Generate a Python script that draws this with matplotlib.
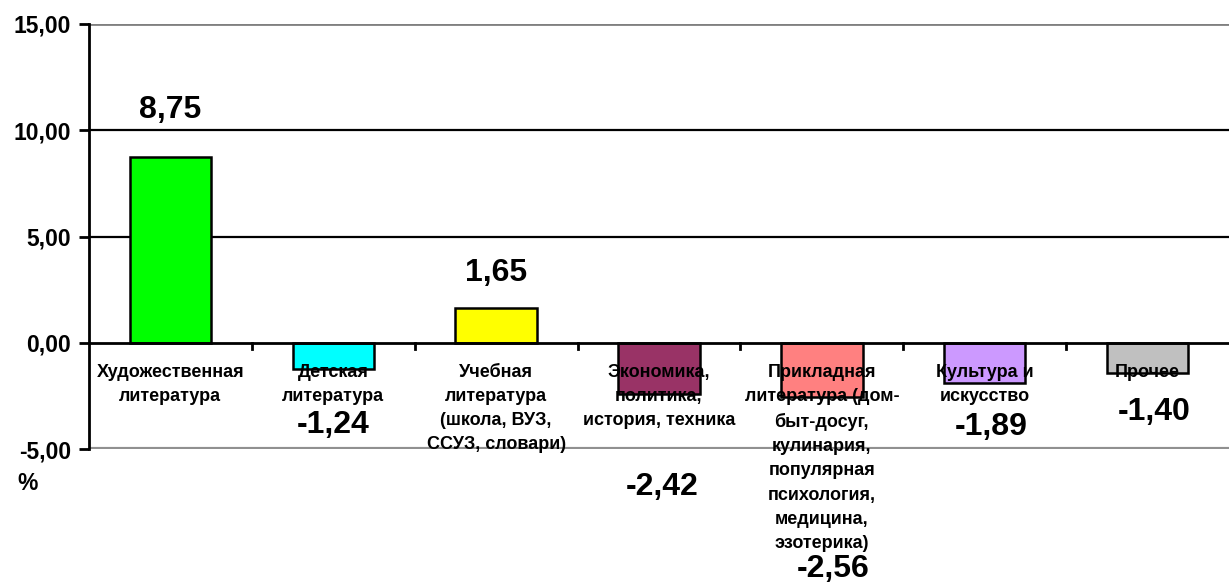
import matplotlib
matplotlib.use("Agg")
import matplotlib.pyplot as plt
import numpy as np

categories = [
    "Художественная\nлитература",
    "Детская\nлитература",
    "Учебная\nлитература\n(школа, ВУЗ,\nССУЗ, словари)",
    "Экономика,\nполитика,\nистория, техника",
    "Прикладная\nлитература (дом-\nбыт-досуг,\nкулинария,\nпопулярная\nпсихология,\nмедицина,\nэзотерика)",
    "Культура и\nискусство",
    "Прочее",
]
values = [8.75, -1.24, 1.65, -2.42, -2.56, -1.89, -1.40]
value_labels = ["8,75", "-1,24", "1,65", "-2,42", "-2,56", "-1,89", "-1,40"]
yticks = [-5, 0, 5, 10, 15]
ytick_labels = ["-5,00", "0,00", "5,00", "10,00", "15,00"]

colors = ["#00FF00", "#00FFFF", "#FFFF00", "#993366", "#FF8080", "#CC99FF", "#C0C0C0"]
# layout: value-label y positions (data units) and x nudges (category units)
label_y = [10.96, -3.86, 3.29, -6.78, -10.65, -3.95, -3.25]
label_dx = [0.0, 0.0, 0.0, 0.02, 0.07, 0.04, 0.04]

FONT = "Liberation Sans"
plt.rcParams["font.family"] = [FONT, "DejaVu Sans"]
plt.rcParams["font.weight"] = "bold"

fig = plt.figure(figsize=(12.29, 5.85), dpi=100)
ax = fig.add_axes([89/1229, 1-449/585, 1-89/1229, (449-24)/585])

x = np.arange(len(values))
ax.bar(x, values, width=0.5, color=colors, edgecolor="black", linewidth=1.8, zorder=3)

ax.set_xlim(-0.5, len(values) - 0.5)
ax.set_ylim(-5, 15)

# horizontal lines
for v in yticks:
    if v in (5, 10):
        ax.axhline(v, color="black", lw=1.6, zorder=1)
    elif v == 15:
        ax.axhline(v, color="#808080", lw=2.0, zorder=1)
    elif v == -5:
        ax.axhline(v, color="#909090", lw=3.0, zorder=1)

for s in ["top", "right", "bottom"]:
    ax.spines[s].set_visible(False)
ax.spines["left"].set_linewidth(2.0)
ax.spines["left"].set_color("black")
ax.axhline(0, color="black", lw=2.0, zorder=4)

ax.set_yticks(yticks)
ax.set_yticklabels(ytick_labels, fontsize=16.5, fontweight="bold")
ax.tick_params(axis="y", length=7, width=2, pad=6)

# category boundary ticks along zero line
bounds = np.arange(len(values) + 1) - 0.5
ax.set_xticks([])
for b in bounds[1:-1]:
    ax.plot([b, b], [0, -0.3], color="black", lw=2, zorder=4, clip_on=False)

# category labels
for i, c in enumerate(categories):
    ax.annotate(c, xy=(x[i], 0), xytext=(0, -15), textcoords="offset points",
                ha="center", va="top", fontsize=13, fontweight="bold",
                linespacing=1.56, zorder=6, annotation_clip=False)

# value labels
for i, lab in enumerate(value_labels):
    ax.text(x[i] + label_dx[i], label_y[i], lab, ha="center", va="center",
            fontsize=23, fontweight="bold", zorder=6, clip_on=False)

fig.text(28/1229, 1-484/585, "%", ha="center", va="center", fontsize=16.5, fontweight="bold")

fig.savefig("out.png", dpi=100)
